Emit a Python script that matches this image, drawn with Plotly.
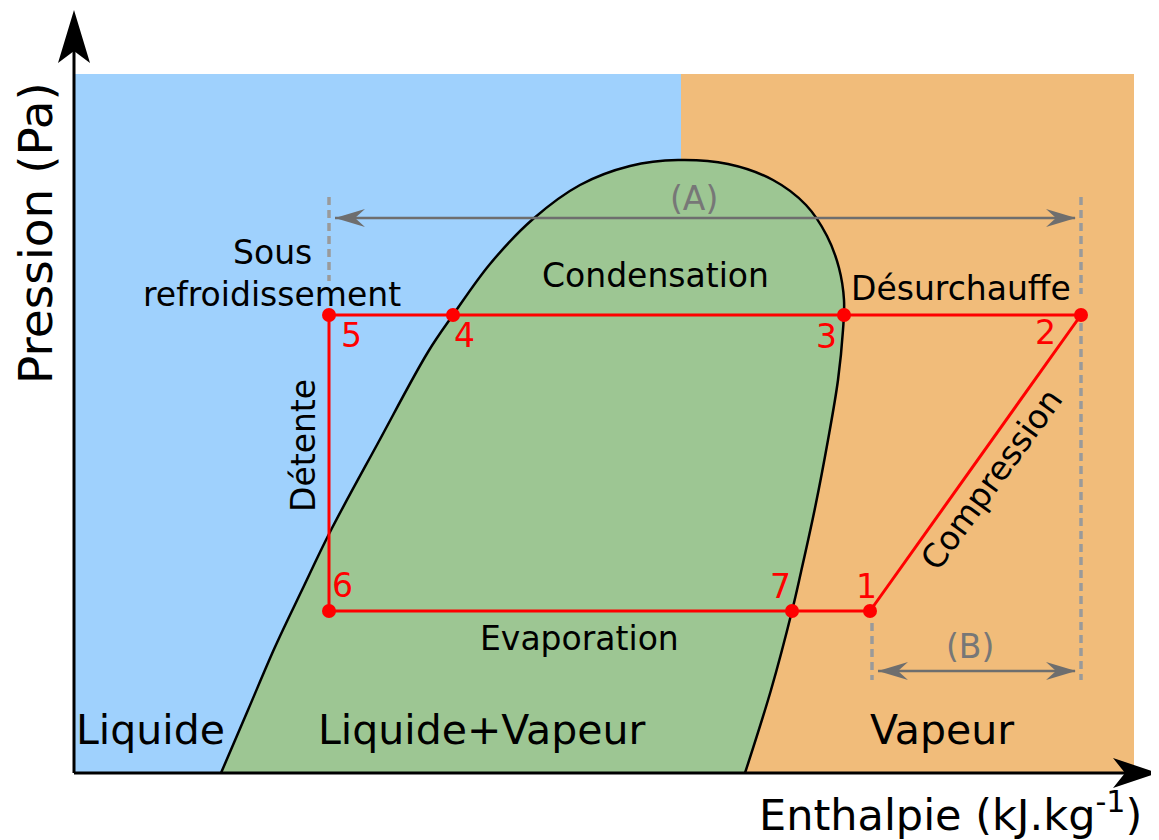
import plotly.graph_objects as go

# diagram frame (drawing units, same as the original picture)
frame_left, frame_split, frame_right = 74, 681, 1134
frame_top, frame_base = 74, 773

# saturation dome: liquid branch -> critical point -> vapour branch
dome_h = [221, 248, 275, 302, 330, 378, 428, 453, 490, 533, 580, 630, 678, 728, 773, 806, 827, 839, 844, 843, 838, 828, 815, 801, 792, 771, 745]
dome_p = [773, 710, 647, 590, 532, 443, 352, 315, 264, 219, 185, 166, 160, 164, 180, 205, 236, 268, 300, 330, 380, 440, 508, 572, 611, 690, 773]

# refrigeration cycle points 1..7
cycle_labels = ["1", "2", "3", "4", "5", "6", "7"]
cycle_h = [870, 1081, 844, 453, 329, 329, 792]
cycle_p = [611, 315, 315, 315, 315, 611, 611]

# bounds of the (A) and (B) ranges
range_a = [329, 1081]
range_b = [872, 1081]

BLUE = "#9fd1fd"
ORANGE = "#f1bc7a"
GREEN = "#9dc693"
RED = "#ff0000"
GREY_ARROW = "#6e6e6e"
GREY_DASH = "#9a9a9a"
FONT = "DejaVu Sans"


def arrow_head(tip_x, tip_y, dx, dy, length, half, notch):
    # stealth arrow head polygon pointing along (dx, dy)
    nx, ny = -dy, dx
    bx, by = tip_x - length * dx, tip_y - length * dy
    return (
        [tip_x, bx + half * nx, tip_x - (length - notch) * dx, bx - half * nx, tip_x],
        [tip_y, by + half * ny, tip_y - (length - notch) * dy, by - half * ny, tip_y],
    )


fig = go.Figure()

# background regions
fig.add_shape(type="rect", x0=frame_left, x1=frame_split, y0=frame_top, y1=frame_base,
              fillcolor=BLUE, line_width=0, layer="below")
fig.add_shape(type="rect", x0=frame_split, x1=frame_right, y0=frame_top, y1=frame_base,
              fillcolor=ORANGE, line_width=0, layer="below")

# dome
fig.add_trace(go.Scatter(x=dome_h, y=dome_p, mode="lines", fill="toself", fillcolor=GREEN,
                         line=dict(color="black", width=2.5, shape="spline", smoothing=1),
                         hoverinfo="skip"))

# dashed guides
dash = dict(color=GREY_DASH, width=3.5, dash="8px,5px")
fig.add_trace(go.Scatter(x=[range_a[0], range_a[0]], y=[197, 281], mode="lines", line=dash))
fig.add_trace(go.Scatter(x=[range_a[1], range_a[1]], y=[197, 294], mode="lines", line=dash))
fig.add_trace(go.Scatter(x=[range_a[1], range_a[1]], y=[323, 680], mode="lines", line=dash))
fig.add_trace(go.Scatter(x=[range_b[0], range_b[0]], y=[623, 680], mode="lines", line=dash))

# (A) and (B) double arrows
for (x0, x1), yy in ((range_a, 218), (range_b, 671)):
    fig.add_trace(go.Scatter(x=[x0 + 6, x1 - 6], y=[yy, yy], mode="lines",
                             line=dict(color=GREY_ARROW, width=2.5)))
    for tx, d in ((x0 + 6, -1), (x1 - 5, 1)):
        ax, ay = arrow_head(tx, yy, d, 0, 30, 9, 10)
        fig.add_trace(go.Scatter(x=ax, y=ay, mode="lines", fill="toself", fillcolor=GREY_ARROW,
                                 line=dict(width=0, color=GREY_ARROW)))

# cycle
path = [0, 1, 2, 3, 4, 5, 6, 0]
fig.add_trace(go.Scatter(x=[cycle_h[i] for i in path], y=[cycle_p[i] for i in path],
                         mode="lines", line=dict(color=RED, width=3)))
fig.add_trace(go.Scatter(x=cycle_h, y=cycle_p, mode="markers",
                         marker=dict(color=RED, size=14, line_width=0)))

# axes with arrow heads
fig.add_trace(go.Scatter(x=[frame_left, 1130], y=[frame_base, frame_base], mode="lines",
                         line=dict(color="black", width=3)))
fig.add_trace(go.Scatter(x=[frame_left, frame_left], y=[frame_base, 40], mode="lines",
                         line=dict(color="black", width=3)))
for tx, ty, dx, dy, ln, hw in ((1158, frame_base, 1, 0, 45, 15), (frame_left, 10, 0, -1, 53, 16)):
    ax, ay = arrow_head(tx, ty, dx, dy, ln, hw, 12)
    fig.add_trace(go.Scatter(x=ax, y=ay, mode="lines", fill="toself", fillcolor="black",
                             line=dict(width=0, color="black")))

# point numbers
label_offset = {"1": (-4, -25), "2": (-36, 17), "3": (-18, 21), "4": (11, 20),
                "5": (22, 20), "6": (13, -26), "7": (-12, -25)}
for lab, hx, py in zip(cycle_labels, cycle_h, cycle_p):
    ox, oy = label_offset[lab]
    fig.add_annotation(x=hx + ox, y=py + oy, text=lab, showarrow=False,
                       font=dict(family=FONT, size=33, color=RED))

texts = [
    ("Condensation", 655, 275, 33, "black", 0),
    ("Désurchauffe", 961, 288, 33, "black", 0),
    ("Sous", 272, 252, 33, "black", 0),
    ("refroidissement", 272, 294, 33, "black", 0),
    ("Détente", 303, 446, 33, "black", -90),
    ("Evaporation", 579, 638, 33, "black", 0),
    ("Compression", 991, 479, 33, "black", -54),
    ("(A)", 694, 198, 33, "#777777", 0),
    ("(B)", 970, 646, 33, "#777777", 0),
    ("Liquide", 150, 730, 41, "black", 0),
    ("Liquide+Vapeur", 481, 730, 41, "black", 0),
    ("Vapeur", 942, 730, 41, "black", 0),
    ("Pression (Pa)", 35, 233, 47, "black", -90),
    ("Enthalpie (kJ.kg<sup>-1</sup>)", 950, 812, 43, "black", 0),
]
for txt, tx, ty, size, col, ang in texts:
    fig.add_annotation(x=tx, y=ty, text=txt, showarrow=False, textangle=ang,
                       font=dict(family=FONT, size=size, color=col))

# the page body adds an 8px margin, so the ranges start at 8 to keep drawing units = page pixels
fig.update_layout(
    width=1159, height=840,
    margin=dict(l=0, r=0, t=0, b=0),
    paper_bgcolor="white", plot_bgcolor="white",
    showlegend=False,
    xaxis=dict(range=[8, 1167], visible=False, fixedrange=True),
    yaxis=dict(range=[848, 8], visible=False, fixedrange=True),
)

fig.write_html("out.html")
